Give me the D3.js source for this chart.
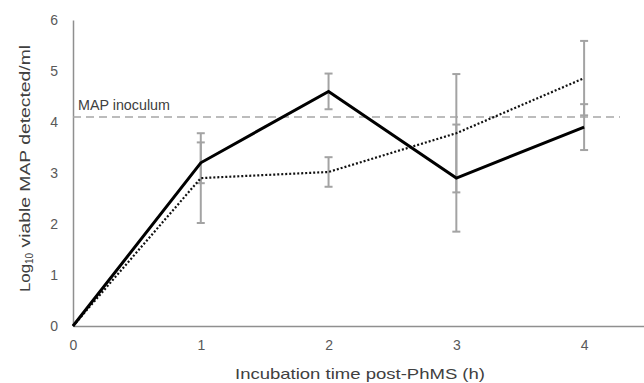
<!DOCTYPE html>
<html>
<head>
<meta charset="utf-8">
<script src="https://cdn.jsdelivr.net/npm/d3@7"></script>
<style>
  body { margin: 0; background: #fff; }
  text { font-family: "Liberation Sans", Arial, sans-serif; }
</style>
</head>
<body>
<svg id="chart" width="644" height="383"></svg>
<script>
// data
const hours = [0, 1, 2, 3, 4];
const solidMean = [0, 3.2, 4.6, 2.9, 3.9];
const solidErr = [0, 0.4, 0.35, 1.05, 0.45];
const dottedMean = [0, 2.9, 3.02, 3.78, 4.86];
const dottedErr = [0, 0.88, 0.29, 1.16, 0.73];
const inoculum = 4.1;
const yTicks = [0, 1, 2, 3, 4, 5, 6];
const xTicks = [0, 1, 2, 3, 4];

const svg = d3.select('#chart');

const x = d3.scaleLinear().domain([0, 4.5]).range([73, 648]);
const y = d3.scaleLinear().domain([0, 6]).range([326, 20]);

const grey = '#8f8f8f';

// axes (no tick marks, just lines + labels)
const yAxis = svg.append('g')
  .attr('transform', `translate(${x(0)},0)`)
  .call(d3.axisLeft(y).tickValues(yTicks).tickSize(0).tickPadding(15).tickFormat(d3.format('d')));
const xAxis = svg.append('g')
  .attr('transform', `translate(0,${y(0)})`)
  .call(d3.axisBottom(x).tickValues(xTicks).tickSize(0).tickPadding(14).tickFormat(d3.format('d')));

[yAxis, xAxis].forEach(g => {
  g.select('.domain').attr('stroke', grey).attr('stroke-width', 1.5);
  g.selectAll('text').attr('fill', '#595959').style('font-size', '14px');
});

// inoculum reference line
svg.append('line')
  .attr('x1', x(0)).attr('x2', 620)
  .attr('y1', y(inoculum)).attr('y2', y(inoculum))
  .attr('stroke', '#a6a6a6').attr('stroke-width', 1.5)
  .attr('stroke-dasharray', '8,5');
svg.append('text')
  .attr('x', x(0) + 5).attr('y', y(inoculum) - 7)
  .attr('fill', '#404040').style('font-size', '14px')
  .attr('textLength', 92).attr('lengthAdjust', 'spacingAndGlyphs')
  .text('MAP inoculum');

// error bars
function errorBars(means, errs) {
  const idx = hours.map((h, i) => i).filter(i => errs[i] > 0);
  const g = svg.append('g').attr('stroke', '#a3a3a3').attr('stroke-width', 2);
  g.selectAll('line.v').data(idx).join('line')
    .attr('x1', i => x(hours[i])).attr('x2', i => x(hours[i]))
    .attr('y1', i => y(means[i] + errs[i])).attr('y2', i => y(means[i] - errs[i]));
  [1, -1].forEach(s => {
    g.selectAll(null).data(idx).join('line')
      .attr('x1', i => x(hours[i]) - 4).attr('x2', i => x(hours[i]) + 4)
      .attr('y1', i => y(means[i] + s * errs[i])).attr('y2', i => y(means[i] + s * errs[i]));
  });
}
errorBars(solidMean, solidErr);
errorBars(dottedMean, dottedErr);

const line = d3.line().x((d, i) => x(hours[i])).y(d => y(d));

svg.append('path')
  .datum(dottedMean)
  .attr('d', line)
  .attr('fill', 'none').attr('stroke', '#111')
  .attr('stroke-width', 2.2).attr('stroke-dasharray', '2,2');

svg.append('path')
  .datum(solidMean)
  .attr('d', line)
  .attr('fill', 'none').attr('stroke', '#000')
  .attr('stroke-width', 3).attr('stroke-linejoin', 'miter');

// axis titles
svg.append('text')
  .attr('x', 235).attr('y', 379)
  .attr('textLength', 250).attr('lengthAdjust', 'spacingAndGlyphs')
  .attr('fill', '#404040').style('font-size', '15px')
  .text('Incubation time post-PhMS (h)');

const yl = svg.append('text')
  .attr('transform', `translate(30,292) rotate(-90)`)
  .attr('fill', '#404040').style('font-size', '15px');
yl.append('tspan').attr('textLength', 28).attr('lengthAdjust', 'spacingAndGlyphs').text('Log');
yl.append('tspan').attr('dy', 3).style('font-size', '10px').text('10');
yl.append('tspan').attr('dy', -3).attr('textLength', 208).attr('lengthAdjust', 'spacingAndGlyphs').text(' viable MAP detected/ml');
</script>
</body>
</html>
